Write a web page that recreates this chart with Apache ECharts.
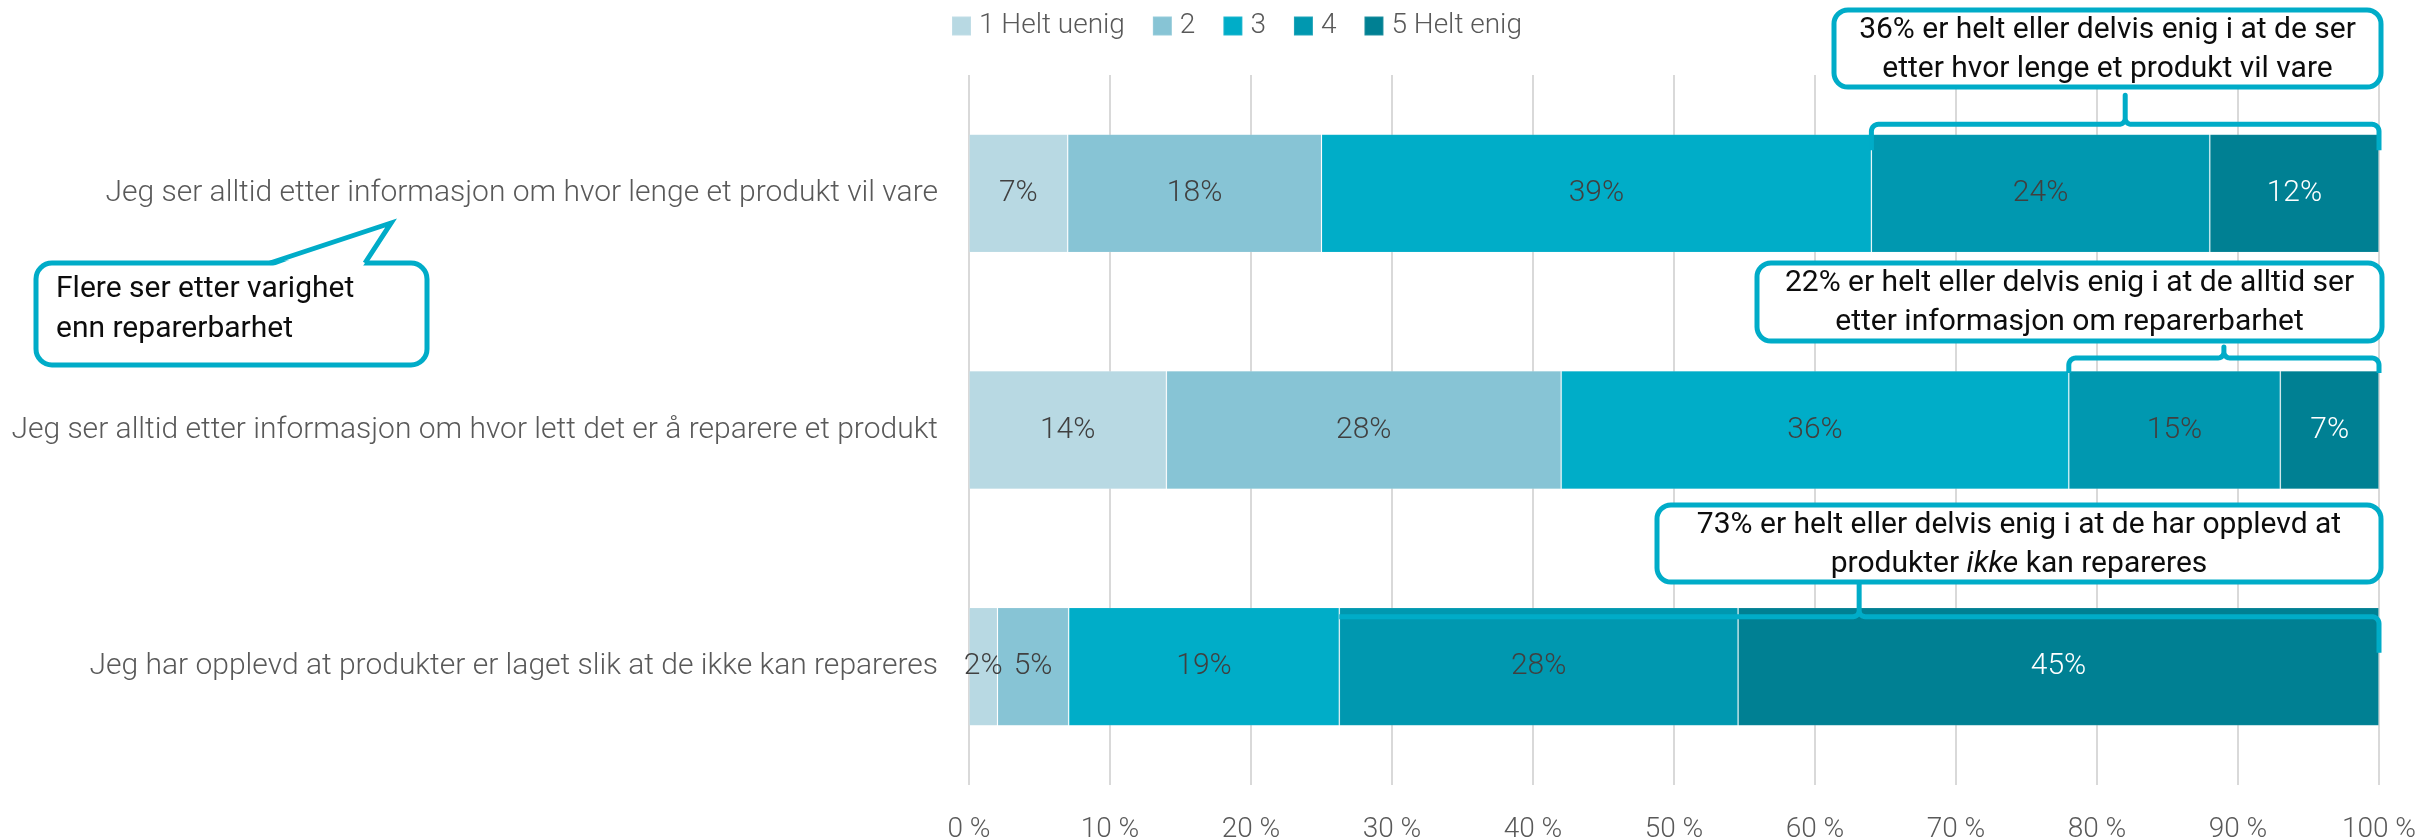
<!DOCTYPE html>
<html>
<head>
<meta charset="utf-8">
<script src="https://cdn.jsdelivr.net/npm/echarts@6/dist/echarts.min.js"></script>
<style>
  html, body { margin: 0; padding: 0; background: #fff; }
  #chart { width: 2425px; height: 840px; }
</style>
</head>
<body>
<div id="chart"></div>
<script>
// Survey statements (top to bottom)
const categories = [
  'Jeg ser alltid etter informasjon om hvor lenge et produkt vil vare',
  'Jeg ser alltid etter informasjon om hvor lett det er å reparere et produkt',
  'Jeg har opplevd at produkter er laget slik at de ikke kan repareres'
];
// Answer scale
const levels = ['1 Helt uenig', '2', '3', '4', '5 Helt enig'];
// Percent answering each level, per statement
const heltUenig = [7, 14, 2];
const level2 = [18, 28, 5];
const level3 = [39, 36, 19];
const level4 = [24, 15, 28];
const heltEnig = [12, 7, 45];
// Percent axis ticks
const tickValues = [0, 10, 20, 30, 40, 50, 60, 70, 80, 90, 100];

// Callout texts
const calloutTexts = [
  '36% er helt eller delvis enig i at de ser\netter hvor lenge et produkt vil vare',
  '22% er helt eller delvis enig i at de alltid ser\netter informasjon om reparerbarhet',
  '73% er helt eller delvis enig i at de har opplevd at\nprodukter {it|ikke} kan repareres'
];
const bubbleText = 'Flere ser etter varighet\nenn reparerbarhet';

const colors = ['#b8d9e3', '#87c4d5', '#00adc8', '#0098b0', '#008093'];
const FONT = "Roboto, 'Noto Sans', sans-serif";
const FS = 28;      // legend and tick labels
const FS_CAT = 30;  // statement labels
const FS_DATA = 30; // values inside the bars
const FS_NOTE = 30; // callout texts
const ACCENT = '#00acc8';

const levelValues = [heltUenig, level2, level3, level4, heltEnig];
// 100 % stacked: each statement's answers are scaled to its own total
const rowTotals = categories.map((_, r) => levelValues.reduce((s, arr) => s + arr[r], 0));
const shares = levelValues.map(arr => arr.map((v, r) => v / rowTotals[r] * 100));

const chart = echarts.init(document.getElementById('chart'), null, { renderer: 'canvas' });

const series = levels.map((name, i) => ({
  name,
  type: 'bar',
  stack: 'total',
  barWidth: '50%',
  data: shares[i],
  itemStyle: { color: colors[i], borderColor: 'rgba(255,255,255,0.12)', borderWidth: 1 },
  label: {
    show: true,
    position: 'inside',
    formatter: p => levelValues[i][p.dataIndex] + '%',
    color: i === 4 ? '#ffffff' : '#404040',
    fontFamily: FONT,
    fontWeight: 300,
    fontSize: FS_DATA
  },
  emphasis: { disabled: true }
}));

chart.setOption({
  animation: false,
  color: colors,
  legend: {
    data: levels,
    left: 946,
    top: 7,
    icon: 'rect',
    itemWidth: 19,
    itemHeight: 19,
    itemGap: 27,
    textStyle: { color: '#595959', fontFamily: FONT, fontWeight: 300, fontSize: FS, padding: [0, 0, 0, 3] }
  },
  grid: { left: 969, right: 46, top: 75, bottom: 55, containLabel: false, outerBoundsMode: 'none' },
  xAxis: {
    type: 'value',
    min: tickValues[0],
    max: tickValues[tickValues.length - 1],
    interval: tickValues[1] - tickValues[0],
    axisLine: { show: false },
    axisTick: { show: false },
    splitLine: { show: true, lineStyle: { color: '#d9d9d9', width: 2 } },
    axisLabel: {
      formatter: '{value} %',
      color: '#595959',
      fontFamily: FONT,
      fontWeight: 300,
      fontSize: FS,
      margin: 31
    }
  },
  yAxis: {
    type: 'category',
    inverse: true,
    data: categories,
    axisLine: { show: false },
    axisTick: { show: false },
    axisLabel: { color: '#595959', fontFamily: FONT, fontWeight: 300, fontSize: FS_CAT, margin: 31 }
  },
  series
});

// Brace over the "agree" part of a bar (levels 4 and 5)
function bracePoints(x0, x1, yLine, yEnd, yPeak, dropLeft, dropRight) {
  const r = 7, rc = 6, xc = (x0 + x1) / 2;
  const pts = [];
  const arc = (cx, cy, rad, a0, a1) => {
    for (let k = 0; k <= 8; k++) {
      const a = a0 + (a1 - a0) * k / 8;
      pts.push([cx + rad * Math.cos(a), cy + rad * Math.sin(a)]);
    }
  };
  if (dropLeft) {
    pts.push([x0, yEnd]);
    arc(x0 + r, yLine + r, r, Math.PI, 1.5 * Math.PI);
  } else {
    pts.push([x0, yLine]);
  }
  arc(xc - rc, yLine - rc, rc, 0.5 * Math.PI, 0);
  pts.push([xc, yPeak]);
  arc(xc + rc, yLine - rc, rc, Math.PI, 0.5 * Math.PI);
  if (dropRight) {
    arc(x1 - r, yLine + r, r, 1.5 * Math.PI, 2 * Math.PI);
    pts.push([x1, yEnd]);
  } else {
    pts.push([x1, yLine]);
  }
  return pts;
}

function buildGraphics() {
  const els = [];
  // offsets of each brace relative to its category centre
  const braceGeom = [
    { line: -69, end: -43, peak: -98, dropLeft: true },
    { line: -72, end: -57, peak: -83, dropLeft: true },
    { line: -50, end: -14, peak: -87, dropLeft: false }
  ];
  categories.forEach((c, r) => {
    const agreeStart = shares[0][r] + shares[1][r] + shares[2][r];
    const x0 = chart.convertToPixel({ xAxisIndex: 0 }, agreeStart);
    const x1 = chart.convertToPixel({ xAxisIndex: 0 }, 100);
    const yc = chart.convertToPixel({ yAxisIndex: 0 }, r);
    const g = braceGeom[r];
    els.push({
      type: 'polyline',
      z: 100,
      shape: { points: bracePoints(x0, x1, yc + g.line, yc + g.end, yc + g.peak, g.dropLeft, true) },
      style: { stroke: ACCENT, lineWidth: 5, fill: null, lineJoin: 'round', lineCap: 'butt' }
    });
  });

  // Callout boxes
  const boxes = [
    { x: 1834, y: 10, w: 547, h: 77 },
    { x: 1757, y: 263, w: 625, h: 78 },
    { x: 1657, y: 505, w: 724, h: 77 }
  ];
  boxes.forEach((b, i) => {
    els.push({
      type: 'rect', z: 100,
      shape: { x: b.x, y: b.y, width: b.w, height: b.h, r: 14 },
      style: { fill: '#ffffff', stroke: ACCENT, lineWidth: 5 }
    });
    els.push({
      type: 'text', z: 101,
      x: b.x + b.w / 2, y: b.y + b.h / 2 + 1,
      style: {
        text: calloutTexts[i],
        align: 'center', verticalAlign: 'middle',
        fontFamily: FONT, fontSize: FS_NOTE, lineHeight: 39, fill: '#0d0d0d',
        rich: { it: { fontStyle: 'italic', fontFamily: FONT, fontSize: FS_NOTE, fill: '#0d0d0d' } }
      }
    });
  });

  // Speech bubble on the left
  const bx = 36, by = 263, bw = 391, bh = 102;
  const tail = [[270, by], [391, 223], [365, by]];
  els.push({
    type: 'rect', z: 100,
    shape: { x: bx, y: by, width: bw, height: bh, r: 16 },
    style: { fill: '#ffffff', stroke: ACCENT, lineWidth: 5 }
  });
  els.push({
    type: 'polygon', z: 101,
    shape: { points: [[273, by + 3], [391, 223], [363, by + 3]] },
    style: { fill: '#ffffff', stroke: null }
  });
  els.push({
    type: 'polyline', z: 102,
    shape: { points: tail },
    style: { stroke: ACCENT, lineWidth: 5, fill: null, lineJoin: 'miter' }
  });
  els.push({
    type: 'text', z: 103,
    x: 56, y: by + bh / 2 - 5,
    style: {
      text: bubbleText,
      align: 'left', verticalAlign: 'middle',
      fontFamily: FONT, fontSize: FS_NOTE, lineHeight: 40, fill: '#0d0d0d'
    }
  });
  return els;
}

chart.setOption({ graphic: { elements: buildGraphics() } });
</script>
</body>
</html>
